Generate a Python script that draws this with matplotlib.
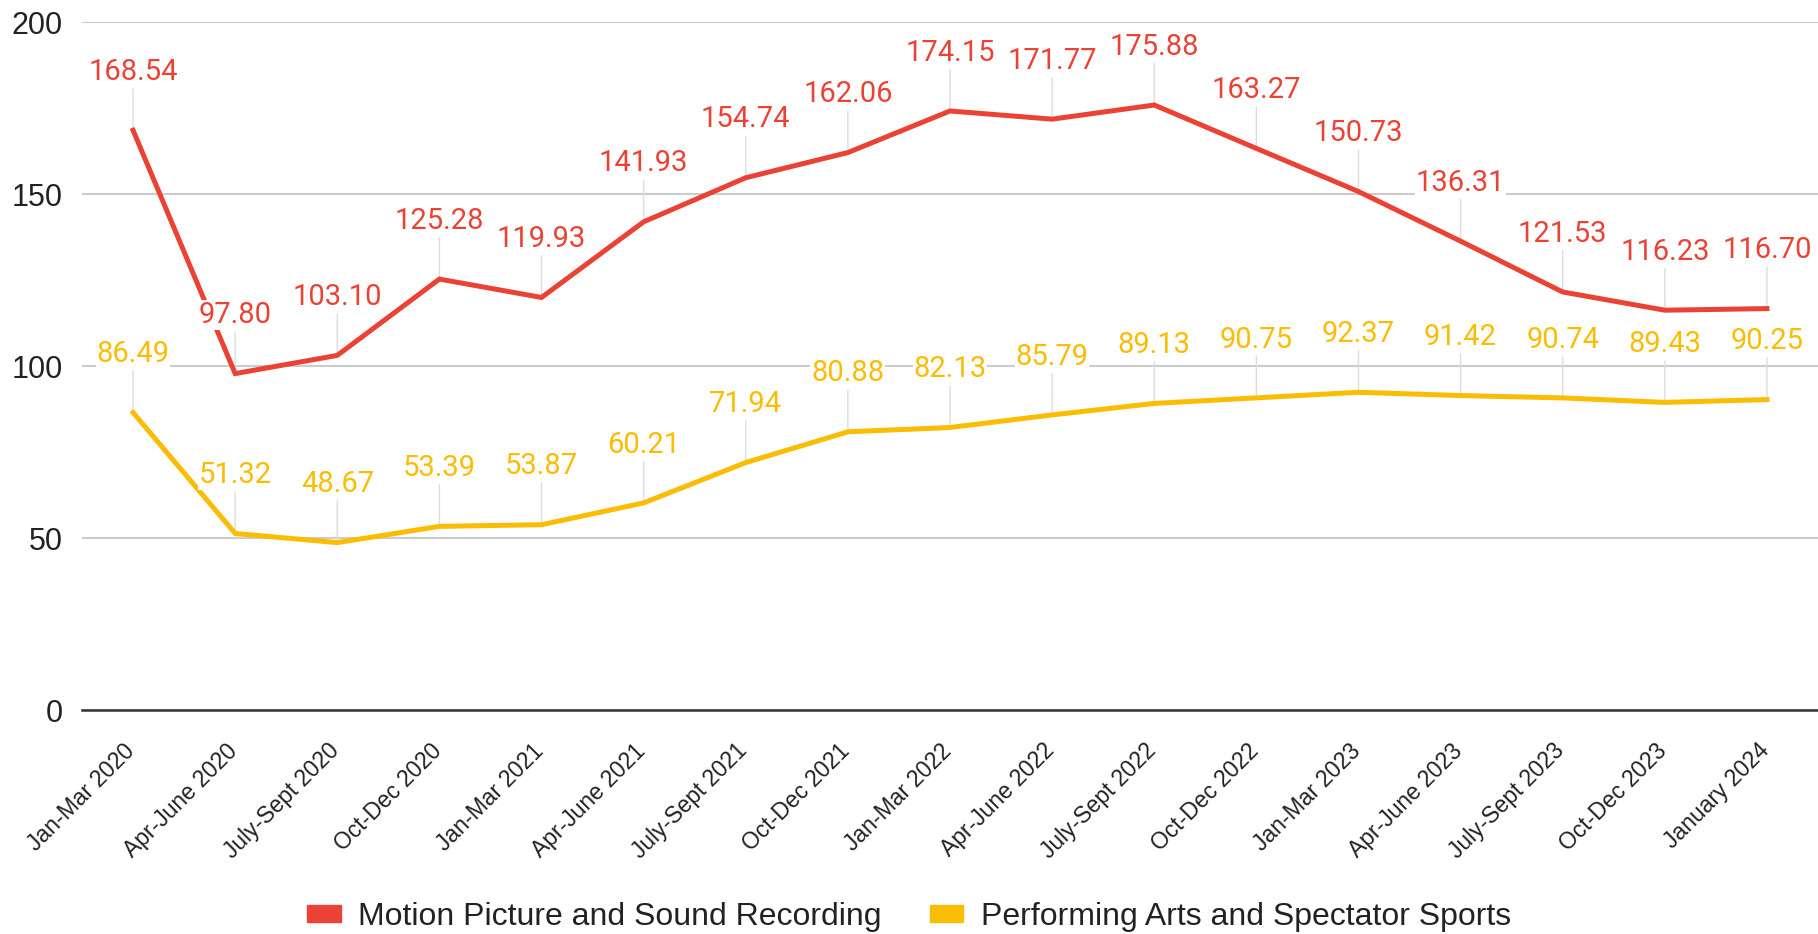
import matplotlib
matplotlib.use("Agg")
import matplotlib.pyplot as plt
from matplotlib.patches import Patch
from matplotlib.transforms import ScaledTranslation

quarters = ["Jan-Mar 2020", "Apr-June 2020", "July-Sept 2020", "Oct-Dec 2020",
            "Jan-Mar 2021", "Apr-June 2021", "July-Sept 2021", "Oct-Dec 2021",
            "Jan-Mar 2022", "Apr-June 2022", "July-Sept 2022", "Oct-Dec 2022",
            "Jan-Mar 2023", "Apr-June 2023", "July-Sept 2023", "Oct-Dec 2023",
            "January 2024"]
motion = [168.54, 97.80, 103.10, 125.28, 119.93, 141.93, 154.74, 162.06, 174.15,
          171.77, 175.88, 163.27, 150.73, 136.31, 121.53, 116.23, 116.70]
performing = [86.49, 51.32, 48.67, 53.39, 53.87, 60.21, 71.94, 80.88, 82.13,
              85.79, 89.13, 90.75, 92.37, 91.42, 90.74, 89.43, 90.25]
series_names = ["Motion Picture and Sound Recording", "Performing Arts and Spectator Sports"]
y_ticks = [0, 50, 100, 150, 200]

RED = "#ea4335"
YELLOW = "#fbbc04"

fig = plt.figure(figsize=(18.18, 9.34), dpi=100)
ax = fig.add_axes([0.0451, 0.2398, 0.9549, 0.7366])

x = list(range(len(quarters)))

for vals, col in [(motion, RED), (performing, YELLOW)]:
    ax.plot(x, vals, color=col, lw=3.6, zorder=3, solid_joinstyle="miter")
    for i, v in zip(x, vals):
        # leader line from point up towards label
        ax.annotate("", xy=(i, v), xytext=(0, 30), textcoords="offset points",
                    arrowprops=dict(arrowstyle="-", color="#dddddd", lw=1,
                                    shrinkA=0, shrinkB=0), zorder=1)
        ax.annotate(f"{v:.2f}", xy=(i, v), xytext=(0, 42), textcoords="offset points",
                    ha="center", va="center", color=col, fontsize=21,
                    family="Roboto", zorder=4,
                    bbox=dict(boxstyle="square,pad=0.03", fc="white", ec="none"))

ax.set_xlim(-0.5, len(quarters) - 0.5)
ax.set_ylim(0, 200)
ax.set_yticks(y_ticks)
ax.set_yticklabels([str(t) for t in y_ticks], family="Liberation Sans", fontsize=22, color="#222222")
ax.set_xticks(x)
ax.set_xticklabels(quarters, rotation=45, ha="right", va="top", rotation_mode="anchor",
                   family="Liberation Sans", fontsize=16.5, color="#222222")
ax.tick_params(axis="both", length=0)
ax.tick_params(axis="y", pad=14)
ax.tick_params(axis="x", pad=21)
# nudge rotated labels so their right end sits under the tick
shift = ScaledTranslation(-7 / 72, 0, fig.dpi_scale_trans)
for lab in ax.get_xticklabels():
    lab.set_transform(lab.get_transform() + shift)

ax.grid(axis="y", color="#cccccc", lw=1.5, zorder=0)
ax.set_axisbelow(True)
for s in ["left", "right", "top"]:
    ax.spines[s].set_visible(False)
ax.spines["bottom"].set_color("#333333")
ax.spines["bottom"].set_linewidth(1.8)

handles = [Patch(color=RED), Patch(color=YELLOW)]
fig.legend(handles, series_names, loc="center", bbox_to_anchor=(0.5, 0.018),
           ncol=2, frameon=False, handlelength=1.05, handleheight=0.45,
           columnspacing=1.5, handletextpad=0.55,
           prop=dict(family="Liberation Sans", size=23))
for t in fig.legends[0].get_texts():
    t.set_color("#222222")

fig.savefig("out.png", dpi=100)
